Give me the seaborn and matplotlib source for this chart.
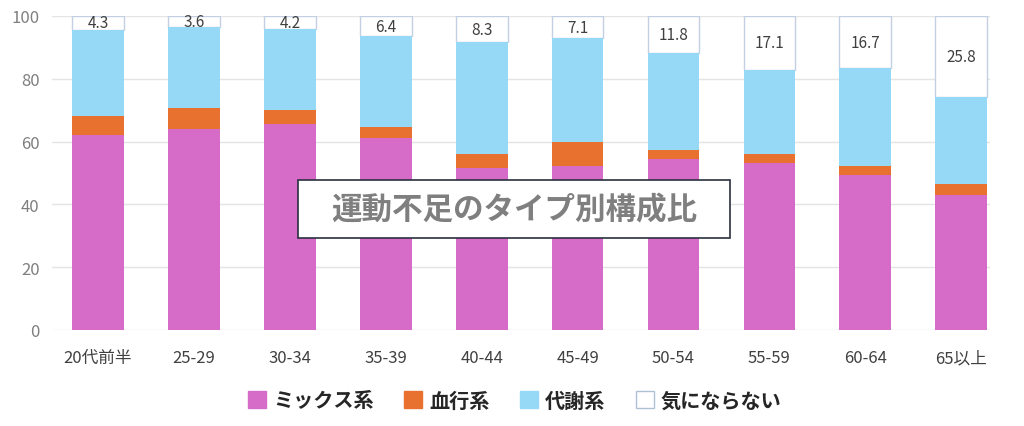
import matplotlib
matplotlib.use("Agg")
import matplotlib.pyplot as plt
import seaborn as sns
import pandas as pd
import numpy as np
from matplotlib.patches import Rectangle, Patch

categories = ["20代前半", "25-29", "30-34", "35-39", "40-44", "45-49", "50-54", "55-59", "60-64", "65以上"]
mix = [62.1, 64.0, 65.6, 61.1, 51.7, 52.3, 54.3, 53.2, 49.5, 43.1]
blood = [5.9, 6.8, 4.4, 3.7, 4.3, 7.5, 3.1, 2.8, 2.8, 3.4]
metab = [27.7, 25.6, 25.8, 28.8, 35.7, 33.1, 30.8, 26.9, 31.0, 27.7]
none_ = [4.3, 3.6, 4.2, 6.4, 8.3, 7.1, 11.8, 17.1, 16.7, 25.8]
series_names = ["ミックス系", "血行系", "代謝系", "気にならない"]
yticks = [0, 20, 40, 60, 80, 100]
title = "運動不足のタイプ別構成比"

c_mix = "#D66BC8"
c_blood = "#E9712F"
c_metab = "#96D9F6"
c_none = "#FFFFFF"
c_none_edge = "#C3D0E3"

sns.set_theme(style="white")
plt.rcParams['font.family'] = ['Noto Sans CJK JP', 'DejaVu Sans']

fig = plt.figure(figsize=(10.24, 4.27), dpi=100)
ax = fig.add_axes([52/1024, 1-331/427, (990-52)/1024, (331-17)/427])

df = pd.DataFrame({"cat": categories, "mix": mix, "blood": blood, "metab": metab, "none": none_})
df["c1"] = df["mix"]
df["c2"] = df["c1"] + df["blood"]
df["c3"] = df["c2"] + df["metab"]
df["c4"] = df["c3"] + df["none"]

w = 0.54
sns.barplot(data=df, x="cat", y="c4", color=c_none, width=w, ax=ax,
            edgecolor=c_none_edge, linewidth=1.0, saturation=1)
white_bars = list(ax.patches)
for p, b, h in zip(white_bars, df["c3"], df["none"]):
    p.set_y(b)
    p.set_height(h)
sns.barplot(data=df, x="cat", y="c3", color=c_metab, width=w, ax=ax, linewidth=0, saturation=1)
sns.barplot(data=df, x="cat", y="c2", color=c_blood, width=w, ax=ax, linewidth=0, saturation=1)
sns.barplot(data=df, x="cat", y="c1", color=c_mix, width=w, ax=ax, linewidth=0, saturation=1)

ax.bar_label(ax.containers[0], labels=[f"{v:.1f}" for v in none_], label_type="center",
             fontsize=11, color="#404040")

ax.set_ylim(0, 100)
ax.set_xlim(-0.48, 9.30)
ax.set_yticks(yticks)
ax.set_xlabel("")
ax.set_ylabel("")
ax.yaxis.grid(True, color="#E4E4E4", linewidth=1.0)
ax.set_axisbelow(True)
for s in ax.spines.values():
    s.set_visible(False)
ax.tick_params(axis="y", length=0, labelsize=12, labelcolor="#7F7F7F", pad=9)
ax.tick_params(axis="x", length=0, labelsize=12, labelcolor="#404040", pad=14)

# title box
fig.patches.append(Rectangle((298/1024, 1-239/427), 432/1024, 58/427, transform=fig.transFigure,
                             facecolor="white", edgecolor="#2B3040", linewidth=1.2, zorder=5))
fig.text(514/1024, 1-210/427, title, ha="center", va="center", fontsize=22,
         fontweight="bold", color="#7F7F7F", zorder=6)

handles = [Patch(facecolor=c_mix, edgecolor=c_mix),
           Patch(facecolor=c_blood, edgecolor=c_blood),
           Patch(facecolor=c_metab, edgecolor=c_metab),
           Patch(facecolor=c_none, edgecolor="#AFC0D6")]
fig.legend(handles, series_names, loc="center", bbox_to_anchor=(515/1024, 1-401/427), ncol=4,
           frameon=False, prop={"size": 14.5, "weight": "bold"}, handlelength=0.9, handleheight=0.9,
           handletextpad=0.35, columnspacing=1.5)

fig.savefig("out.png", dpi=100)
